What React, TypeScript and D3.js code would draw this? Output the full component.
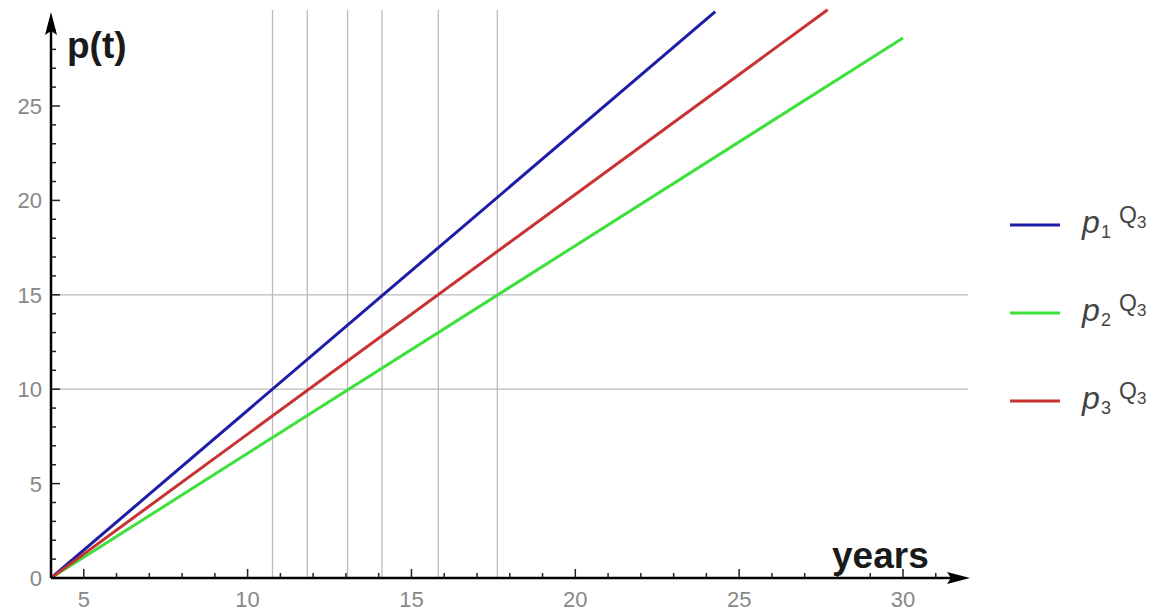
import React from 'react';
import * as d3 from 'd3';

// data
const seriesNames = ['1', '2', '3'];
const seriesColors = ['#1c1ca6', '#3ee03e', '#c83232'];
const bluePts: [number, number][] = [[4, 0], [24.27, 30]];
const greenPts: [number, number][] = [[4, 0], [30, 28.6]];
const redPts: [number, number][] = [[4, 0], [27.7, 30.1]];
const xTicks = [5, 10, 15, 20, 25, 30];
const yTicks = [0, 5, 10, 15, 20, 25];
const vGrid = [10.76, 11.82, 13.05, 14.1, 15.82, 17.62];
const hGrid = [10, 15];

export default function App() {
    const width = 1155;
    const height = 614;
    const x = d3.scaleLinear().domain([4, 30]).range([51, 903]);
    const y = d3.scaleLinear().domain([0, 25]).range([578, 106]);
    const line = d3.line<[number, number]>().x((d) => x(d[0])).y((d) => y(d[1]));
    const series = [bluePts, greenPts, redPts];
    const minorX = d3.range(5, 32);
    const minorY = d3.range(1, 30);
    const legY = [225, 313, 401];
    const font = 'Liberation Sans, Arial, sans-serif';

    return (
        <svg width={width} height={height} style={{position: 'absolute', left: 0, top: 0, background: '#fff'}}>
            {/* grid */}
            {vGrid.map((v, i) => (
                <line key={'v' + i} x1={x(v)} x2={x(v)} y1={10} y2={y(0)} stroke="#bbb" strokeWidth={1.3} />
            ))}
            {hGrid.map((v, i) => (
                <line key={'h' + i} x1={x(4)} x2={968} y1={y(v)} y2={y(v)} stroke="#bbb" strokeWidth={1.3} />
            ))}
            {/* series */}
            <clipPath id="plotclip">
                <rect x={x(4)} y={8} width={960} height={y(0) - 8} />
            </clipPath>
            <g clipPath="url(#plotclip)">
                {series.map((s, i) => (
                    <path key={i} d={line(s) || ''} fill="none" stroke={seriesColors[i]} strokeWidth={3} />
                ))}
            </g>
            {/* x axis */}
            {minorX.map((v) => (
                <line key={'mx' + v} x1={x(v)} x2={x(v)} y1={y(0)} y2={y(0) - (v % 5 === 0 ? 9 : 5)} stroke="#222" strokeWidth={1.5} />
            ))}
            <line x1={x(4)} x2={958} y1={y(0)} y2={y(0)} stroke="#000" strokeWidth={2.5} />
            <path d={`M970,${y(0)} L947,${y(0) - 6} L951,${y(0)} L947,${y(0) + 6} Z`} fill="#000" />
            {xTicks.map((v) => (
                <text key={'xt' + v} x={x(v)} y={607} textAnchor="middle" fontFamily={font} fontSize={22} fill="#888">{v}</text>
            ))}
            <text x={832} y={568} fontFamily={font} fontWeight="bold" fontSize={37} fill="#1a1a1a">years</text>
            {/* y axis */}
            {minorY.map((v) => (
                <line key={'my' + v} x1={x(4)} x2={x(4) + (v % 5 === 0 ? 9 : 5)} y1={y(v)} y2={y(v)} stroke="#222" strokeWidth={1.5} />
            ))}
            <line x1={x(4)} x2={x(4)} y1={y(0)} y2={24} stroke="#000" strokeWidth={2.5} />
            <path d={`M${x(4)},12 L${x(4) - 6},35 L${x(4)},31 L${x(4) + 6},35 Z`} fill="#000" />
            {yTicks.map((v) => (
                <text key={'yt' + v} x={42} y={y(v) + 8} textAnchor="end" fontFamily={font} fontSize={22} fill="#888">{v}</text>
            ))}
            <text x={67} y={58} fontFamily={font} fontWeight="bold" fontSize={37} fill="#1a1a1a">p(t)</text>
            {/* legend */}
            {seriesNames.map((n, i) => (
                <g key={'lg' + i} transform={`translate(0,${legY[i]})`}>
                    <line x1={1010} x2={1060} y1={0} y2={0} stroke={seriesColors[i]} strokeWidth={3} />
                    <text fontFamily={font} fill="#444">
                        <tspan x={1082} y={8} fontSize={32} fontStyle="italic">p</tspan>
                        <tspan x={1101} y={13} fontSize={18}>{n}</tspan>
                        <tspan x={1119} y={-2} fontSize={23}>Q</tspan>
                        <tspan x={1137} y={3} fontSize={17}>3</tspan>
                    </text>
                </g>
            ))}
        </svg>
    );
}
